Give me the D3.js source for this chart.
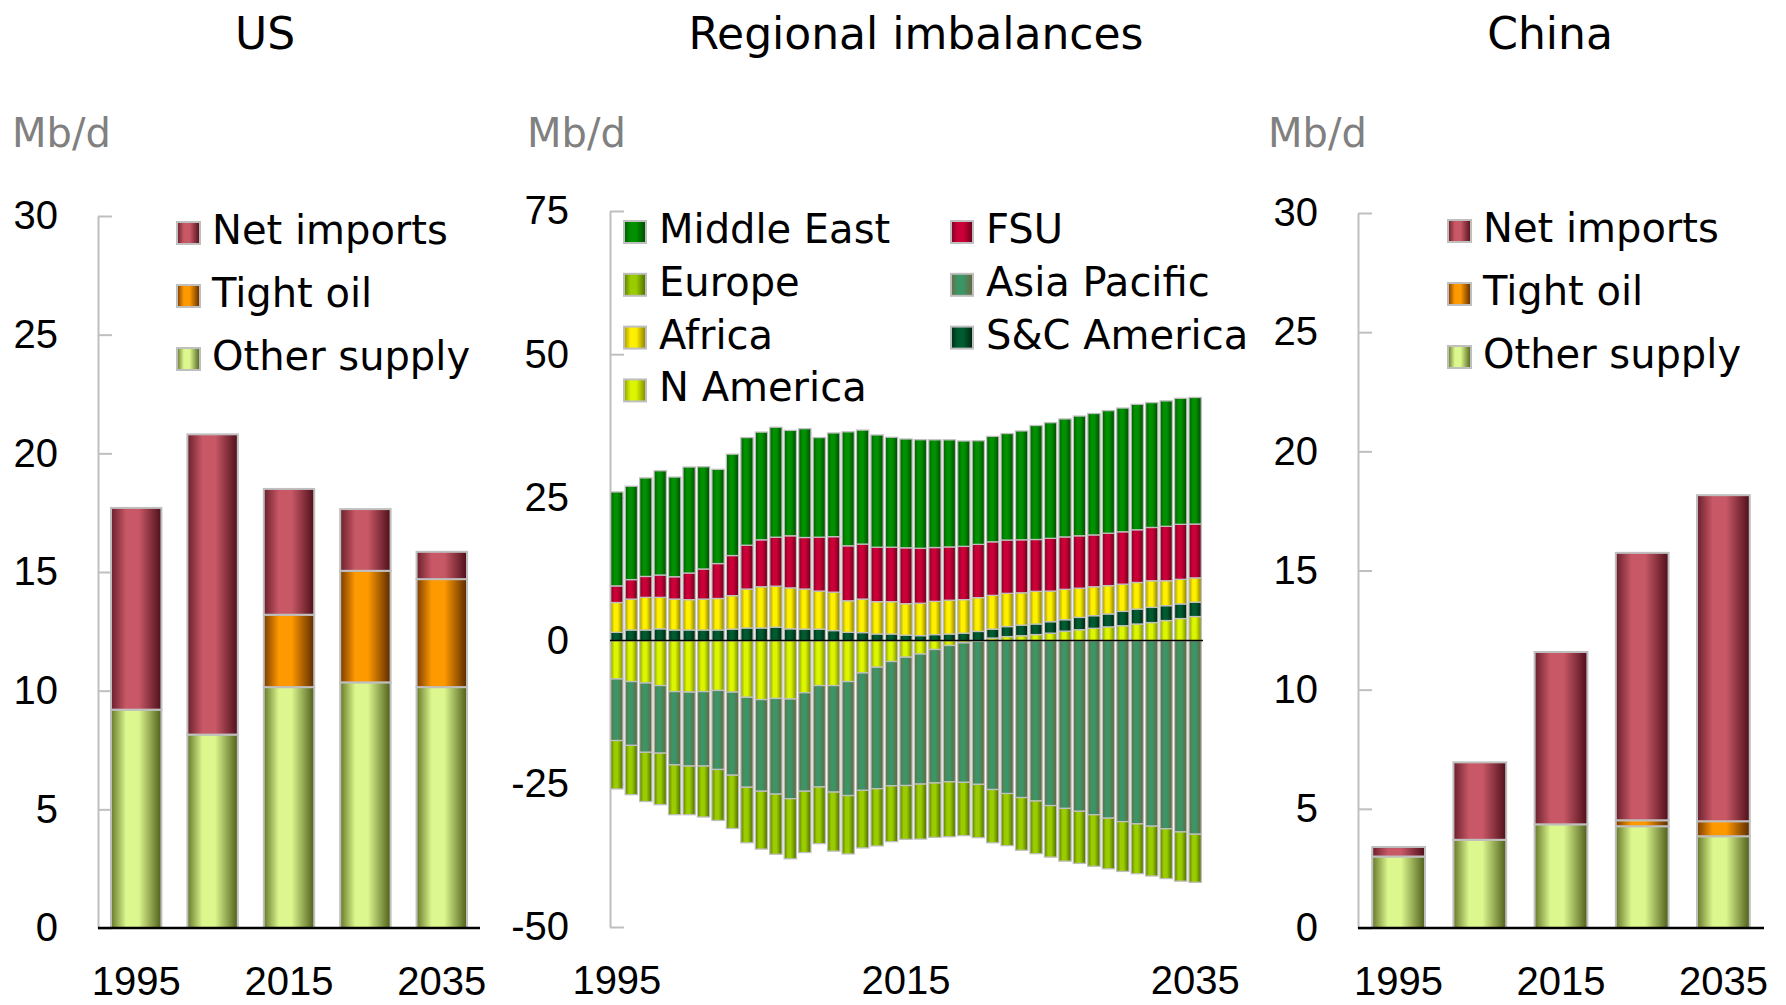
<!DOCTYPE html>
<html>
<head>
<meta charset="utf-8">
<script src="https://cdn.jsdelivr.net/npm/d3@7"></script>
<style>
body { margin: 0; background: #fff; }
svg text { font-family: "DejaVu Sans", sans-serif; fill: #000; }
.num text, text.num { font-family: "Liberation Sans", Arial, sans-serif; font-size: 40px; }
</style>
</head>
<body>
<svg width="1786" height="1005"></svg>
<script>
// ---- US / China supply (Mb/d) ----
var supplyYears = ["1995", "2005", "2015", "2025", "2035"];
var supplyYearLabels = ["1995", "2015", "2035"];
var supplyTicks = [0, 5, 10, 15, 20, 25, 30];

var usOther = [9.2, 8.15, 10.15, 10.35, 10.15];
var usTight = [0, 0, 3.05, 4.7, 4.55];
var usNetImports = [8.5, 12.65, 5.3, 2.6, 1.15];

var chinaOther = [3.0, 3.7, 4.35, 4.27, 3.85];
var chinaTight = [0, 0, 0, 0.25, 0.63];
var chinaNetImports = [0.4, 3.25, 7.23, 11.22, 13.68];

// ---- Regional imbalances (Mb/d), 1995..2035 ----
var regionYears = [1995, 1996, 1997, 1998, 1999, 2000, 2001, 2002, 2003, 2004, 2005,
  2006, 2007, 2008, 2009, 2010, 2011, 2012, 2013, 2014, 2015, 2016, 2017, 2018, 2019,
  2020, 2021, 2022, 2023, 2024, 2025, 2026, 2027, 2028, 2029, 2030, 2031, 2032, 2033,
  2034, 2035];
var regionYearLabels = [1995, 2015, 2035];
var regionTicks = [-50, -25, 0, 25, 50, 75];

var nAmerica = [-6.7, -7.15, -7.4, -7.85, -8.9, -9.0, -8.9, -8.7, -9.0, -9.9, -10.3,
  -10.1, -10.2, -9.1, -7.85, -7.85, -7.15, -5.65, -4.65, -3.65, -2.9, -2.35, -1.55,
  -0.85, -0.4, -0.1, 0.45, 0.7, 0.85, 1.05, 1.3, 1.65, 1.9, 2.15, 2.4, 2.6, 2.9, 3.15,
  3.5, 3.85, 4.2];
var scAmerica = [1.45, 1.85, 1.85, 2.05, 1.85, 1.85, 1.85, 1.85, 2.0, 2.2, 2.2, 2.35,
  2.05, 2.0, 2.0, 1.75, 1.45, 1.4, 1.15, 1.15, 0.95, 0.87, 1.05, 1.15, 1.3, 1.6, 1.55,
  1.75, 1.85, 1.85, 2.0, 2.0, 2.15, 2.2, 2.25, 2.5, 2.6, 2.65, 2.6, 2.55, 2.5];
var africa = [5.2, 5.4, 5.7, 5.5, 5.4, 5.3, 5.4, 5.5, 5.85, 6.8, 7.2, 7.15, 7.15, 7.0,
  6.65, 6.7, 5.5, 5.85, 5.65, 5.65, 5.5, 5.65, 5.8, 5.9, 5.85, 5.9, 5.9, 5.8, 5.65, 5.7,
  5.35, 5.3, 5.1, 5.05, 4.95, 4.75, 4.65, 4.65, 4.35, 4.3, 4.25];
var fsu = [2.9, 3.4, 3.65, 3.9, 3.9, 4.65, 5.25, 6.1, 7.0, 7.65, 8.2, 8.55, 9.1, 9.0,
  9.4, 9.7, 9.6, 9.6, 9.5, 9.5, 9.75, 9.6, 9.4, 9.3, 9.3, 9.3, 9.35, 9.3, 9.25, 9.05,
  9.2, 9.15, 9.15, 9.05, 9.15, 9.15, 9.2, 9.3, 9.5, 9.6, 9.4];
var middleEast = [16.4, 16.3, 17.2, 18.2, 17.4, 18.5, 17.85, 16.45, 17.7, 18.8, 18.8,
  19.2, 18.4, 19.0, 17.4, 18.1, 19.9, 19.9, 19.6, 19.2, 19.0, 18.95, 18.8, 18.7, 18.4,
  18.1, 18.4, 18.6, 19.0, 19.9, 20.2, 20.6, 20.9, 21.2, 21.4, 21.6, 21.9, 21.8, 21.9,
  22.0, 22.1];
var asiaPacific = [-10.75, -11.15, -12.1, -11.8, -12.8, -12.9, -13.0, -13.8, -14.5,
  -15.7, -16.0, -16.7, -17.4, -17.2, -17.7, -18.6, -19.9, -20.5, -21.2, -21.7, -22.4,
  -22.7, -23.3, -23.8, -24.35, -25.0, -26.0, -26.7, -27.4, -28.0, -28.8, -29.3, -29.8,
  -30.4, -31.0, -31.6, -32.0, -32.4, -32.85, -33.4, -33.8];
var europe = [-8.45, -8.6, -8.6, -9.0, -8.7, -8.5, -8.9, -8.9, -9.3, -9.7, -10.1, -10.5,
  -10.5, -10.7, -9.9, -10.3, -10.2, -10.05, -10.0, -9.75, -9.4, -9.6, -9.5, -9.6, -9.3,
  -9.3, -9.3, -9.1, -9.2, -9.2, -9.0, -9.2, -9.1, -9.0, -8.85, -8.7, -8.7, -8.7, -8.7,
  -8.6, -8.4];

var svg = d3.select("svg");
var defs = svg.append("defs");

// cylinder-like shading used on every bar
function addGradient(id, edge, light, edge2) {
  var g = defs.append("linearGradient").attr("id", id)
    .attr("x1", 0).attr("x2", 1).attr("y1", 0).attr("y2", 0);
  g.append("stop").attr("offset", "0%").attr("stop-color", edge);
  g.append("stop").attr("offset", "30%").attr("stop-color", light);
  g.append("stop").attr("offset", "55%").attr("stop-color", light);
  g.append("stop").attr("offset", "100%").attr("stop-color", edge2);
}
addGradient("gNet", "#6a1f2c", "#c85866", "#4e0f1a");
addGradient("gTight", "#7a3c00", "#ff9900", "#5a2a00");
addGradient("gOther", "#66782a", "#dcf78e", "#4e5e1a");
addGradient("gME", "#005c00", "#009000", "#004a00");
addGradient("gFSU", "#7c0020", "#cc0038", "#6a0018");
addGradient("gAfr", "#a89a00", "#fff000", "#8a7c00");
addGradient("gSC", "#002a14", "#005c30", "#00220f");
addGradient("gNA", "#8ea000", "#dcf500", "#7a8a00");
addGradient("gAP", "#6e6a42", "#3b9566", "#6a6440");
addGradient("gEU", "#5c7e00", "#9acc00", "#4c6a00");

var strokeGray = "#bfbfbf";
var plainNumber = function(d) { return String(d); };

function styleYAxis(g) {
  g.select(".domain").attr("stroke", strokeGray).attr("stroke-width", 2);
  g.selectAll(".tick line").attr("stroke", strokeGray).attr("stroke-width", 2);
  g.selectAll(".tick text").attr("font-size", 40).attr("fill", "#000");
}

// ---------- US and China panels ----------
function drawSupply(cfg) {
  var rows = supplyYears.map(function(y, i) {
    return {year: y, other: cfg.other[i], tight: cfg.tight[i], net: cfg.net[i]};
  });
  var keys = ["other", "tight", "net"];
  var fills = {other: "url(#gOther)", tight: "url(#gTight)", net: "url(#gNet)"};

  var x = d3.scaleBand().domain(supplyYears).range([cfg.x0, cfg.x1])
    .paddingInner(cfg.pad).paddingOuter(cfg.pad / 2);
  var y = d3.scaleLinear().domain([0, 30]).range([cfg.yBottom, cfg.yTop]);

  var series = d3.stack().keys(keys)(rows);

  svg.append("g").attr("class", "num")
    .attr("transform", "translate(" + cfg.x0 + ",0)")
    .call(d3.axisLeft(y).tickValues(supplyTicks).tickFormat(plainNumber)
      .tickSizeInner(-14).tickSizeOuter(0).tickPadding(40))
    .call(styleYAxis);

  svg.append("g").selectAll("g").data(series).enter().append("g")
    .attr("fill", function(d) { return fills[d.key]; })
    .selectAll("rect").data(function(d) { return d.filter(function(p) { return p[1] - p[0] > 0.001; }); })
    .enter().append("rect")
    .attr("x", function(d) { return x(d.data.year); })
    .attr("width", x.bandwidth())
    .attr("y", function(d) { return y(d[1]); })
    .attr("height", function(d) { return y(d[0]) - y(d[1]); })
    .attr("stroke", strokeGray).attr("stroke-width", 2);

  svg.append("line")
    .attr("x1", cfg.x0).attr("x2", cfg.x1)
    .attr("y1", y(0)).attr("y2", y(0))
    .attr("stroke", "#000").attr("stroke-width", 2.5);

  var xa = svg.append("g").attr("class", "num")
    .attr("transform", "translate(0," + y(0) + ")")
    .call(d3.axisBottom(x).tickValues(supplyYearLabels).tickSize(0).tickPadding(39));
  xa.select(".domain").remove();
  xa.selectAll("text").attr("font-size", 40).attr("fill", "#000");

  // title and unit
  svg.append("text").attr("x", cfg.titleX).attr("y", 49)
    .attr("text-anchor", "middle").attr("font-size", 44).text(cfg.title);
  svg.append("text").attr("x", cfg.unitX).attr("y", 147)
    .attr("font-size", 40).style("fill", "#808080").text("Mb/d");

  // legend
  var legendItems = [
    {label: "Net imports", fill: "url(#gNet)"},
    {label: "Tight oil", fill: "url(#gTight)"},
    {label: "Other supply", fill: "url(#gOther)"}
  ];
  var lg = svg.append("g");
  legendItems.forEach(function(it, i) {
    var by = cfg.legendY + i * 63;
    lg.append("rect").attr("x", cfg.legendX).attr("y", by - 22)
      .attr("width", 23).attr("height", 22)
      .attr("fill", it.fill).attr("stroke", strokeGray).attr("stroke-width", 2);
    lg.append("text").attr("x", cfg.legendX + 35).attr("y", by)
      .attr("font-size", 40).text(it.label);
  });
}

drawSupply({
  title: "US", titleX: 265, unitX: 12,
  other: usOther, tight: usTight, net: usNetImports,
  x0: 98, x1: 480, yTop: 216, yBottom: 928, pad: 0.34,
  legendX: 177, legendY: 244
});

drawSupply({
  title: "China", titleX: 1550, unitX: 1268,
  other: chinaOther, tight: chinaTight, net: chinaNetImports,
  x0: 1358, x1: 1764, yTop: 213, yBottom: 928, pad: 0.35,
  legendX: 1448, legendY: 242
});

// ---------- Regional imbalances ----------
(function() {
  var keys = ["N America", "S&C America", "Africa", "FSU", "Middle East", "Asia Pacific", "Europe"];
  var values = {
    "N America": nAmerica, "S&C America": scAmerica, "Africa": africa, "FSU": fsu,
    "Middle East": middleEast, "Asia Pacific": asiaPacific, "Europe": europe
  };
  var fills = {
    "N America": "url(#gNA)", "S&C America": "url(#gSC)", "Africa": "url(#gAfr)",
    "FSU": "url(#gFSU)", "Middle East": "url(#gME)", "Asia Pacific": "url(#gAP)",
    "Europe": "url(#gEU)"
  };
  var rows = regionYears.map(function(yr, i) {
    var r = {year: yr};
    keys.forEach(function(k) { r[k] = values[k][i]; });
    return r;
  });

  var x = d3.scaleBand().domain(regionYears).range([610, 1202])
    .paddingInner(0.15).paddingOuter(0.05);
  var y = d3.scaleLinear().domain([-50, 75]).range([927, 211]);

  var series = d3.stack().keys(keys).offset(d3.stackOffsetDiverging)(rows);

  svg.append("g").attr("class", "num")
    .attr("transform", "translate(610,0)")
    .call(d3.axisLeft(y).tickValues(regionTicks).tickFormat(plainNumber)
      .tickSizeInner(-14).tickSizeOuter(0).tickPadding(41))
    .call(styleYAxis);

  svg.append("g").selectAll("g").data(series).enter().append("g")
    .attr("fill", function(d) { return fills[d.key]; })
    .selectAll("rect").data(function(d) { return d.filter(function(p) { return Math.abs(p[1] - p[0]) > 0.001; }); })
    .enter().append("rect")
    .attr("x", function(d) { return x(d.data.year); })
    .attr("width", x.bandwidth())
    .attr("y", function(d) { return y(Math.max(d[0], d[1])); })
    .attr("height", function(d) { return Math.abs(y(d[0]) - y(d[1])); })
    .attr("stroke", strokeGray).attr("stroke-width", 1.3);

  svg.append("line")
    .attr("x1", 610).attr("x2", 1203)
    .attr("y1", y(0)).attr("y2", y(0))
    .attr("stroke", "#000").attr("stroke-width", 1.5);

  var xa = svg.append("g").attr("class", "num")
    .attr("transform", "translate(0," + 928 + ")")
    .call(d3.axisBottom(x).tickValues(regionYearLabels).tickSize(0).tickPadding(38));
  xa.select(".domain").remove();
  xa.selectAll("text").attr("font-size", 40).attr("fill", "#000");

  svg.append("text").attr("x", 916).attr("y", 49)
    .attr("text-anchor", "middle").attr("font-size", 44).text("Regional imbalances");
  svg.append("text").attr("x", 527).attr("y", 147)
    .attr("font-size", 40).style("fill", "#808080").text("Mb/d");

  var legendCols = [
    {x: 624, items: ["Middle East", "Europe", "Africa", "N America"]},
    {x: 951, items: ["FSU", "Asia Pacific", "S&C America"]}
  ];
  var lg = svg.append("g");
  legendCols.forEach(function(col) {
    col.items.forEach(function(name, i) {
      var by = 243 + i * 52.8;
      lg.append("rect").attr("x", col.x).attr("y", by - 22)
        .attr("width", 22).attr("height", 22)
        .attr("fill", fills[name]).attr("stroke", strokeGray).attr("stroke-width", 2);
      lg.append("text").attr("x", col.x + 35).attr("y", by)
        .attr("font-size", 40).text(name);
    });
  });
})();
</script>
</body>
</html>
